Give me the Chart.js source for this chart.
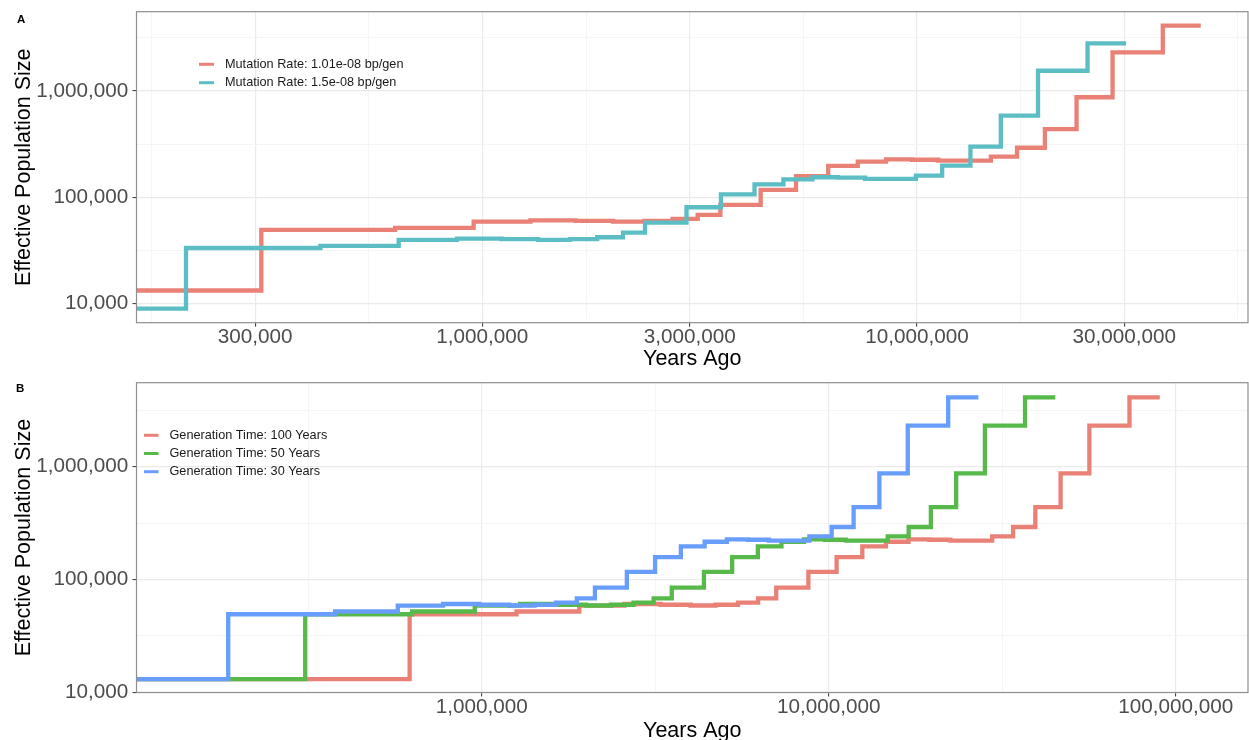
<!DOCTYPE html>
<html>
<head>
<meta charset="utf-8">
<title>Effective population size through time</title>
<script src="https://cdn.jsdelivr.net/npm/chart.js@4.4.1/dist/chart.umd.min.js"></script>
<style>
  html, body { margin: 0; padding: 0; background: #ffffff; overflow: hidden; }
  #wrap { position: relative; width: 1249px; height: 740px; }
  canvas { position: absolute; left: 0; }
  #panelA { top: 0; }
  #panelB { top: 370px; }
</style>
</head>
<body>
<div id="wrap">
  <canvas id="panelA" width="1249" height="370"></canvas>
  <canvas id="panelB" width="1249" height="370"></canvas>
</div>
<script>
// ---------------- Panel A: two mutation rates ----------------
// Each pair of arrays lists the start of every epoch (years ago) and the
// effective population size held during it; the last entry closes the line.
const yearsMu101 = [1.5e5, 3.10e5, 6.30e5, 9.55e5, 1.29e6, 1.64e6, 2.00e6, 2.36e6, 2.74e6, 3.13e6,
                    3.53e6, 4.37e6, 5.27e6, 6.25e6, 7.31e6, 8.49e6, 9.75e6, 1.12e7, 1.48e7, 1.70e7,
                    1.97e7, 2.33e7, 2.82e7, 3.68e7, 4.50e7];
const neMu101    = [13200, 49100, 51300, 58800, 60500, 59700, 58800, 59700, 62400, 68000,
                    84500, 117000, 158000, 196700, 216000, 227000, 225000, 221000, 241000, 292000,
                    438000, 873000, 2310000, 4120000, 4120000];

const yearsMu150 = [1.5e5, 2.08e5, 4.24e5, 6.42e5, 8.74e5, 1.107e6, 1.343e6, 1.59e6, 1.838e6, 2.107e6,
                    2.368e6, 2.95e6, 3.54e6, 4.23e6, 4.93e6, 5.75e6, 6.58e6, 7.60e6, 9.95e6, 1.143e7,
                    1.328e7, 1.56e7, 1.90e7, 2.47e7, 3.03e7];
const neMu150    = [8910, 33200, 34700, 39500, 40700, 40300, 39500, 40300, 41900, 46300,
                    57500, 80300, 106400, 132000, 147000, 153900, 153000, 148400, 159600, 198000,
                    299000, 586000, 1550000, 2810000, 2810000];

// ---------------- Panel B: three generation times ----------------
const yearsGen100 = [9.0e4, 6.20e5, 1.26e6, 1.91e6, 2.58e6, 3.28e6, 4.00e6, 4.72e6, 5.48e6, 6.26e6,
                     7.06e6, 8.74e6, 1.054e7, 1.25e7, 1.462e7, 1.698e7, 1.95e7, 2.24e7, 2.96e7, 3.40e7,
                     3.94e7, 4.66e7, 5.64e7, 7.36e7, 9.00e7];
const yearsGen50  = [9.0e4, 3.10e5, 6.30e5, 9.55e5, 1.29e6, 1.64e6, 2.00e6, 2.36e6, 2.74e6, 3.13e6,
                     3.53e6, 4.37e6, 5.27e6, 6.25e6, 7.31e6, 8.49e6, 9.75e6, 1.12e7, 1.48e7, 1.70e7,
                     1.97e7, 2.33e7, 2.82e7, 3.68e7, 4.50e7];
const yearsGen30  = [9.0e4, 1.86e5, 3.78e5, 5.73e5, 7.74e5, 9.84e5, 1.20e6, 1.42e6, 1.64e6, 1.88e6,
                     2.12e6, 2.62e6, 3.16e6, 3.75e6, 4.39e6, 5.09e6, 5.85e6, 6.72e6, 8.80e6, 1.02e7,
                     1.18e7, 1.40e7, 1.69e7, 2.21e7, 2.70e7];
// The three generation times share the same sequence of population sizes.
const neGenTime   = [13050, 49150, 52000, 58700, 60600, 59700, 58800, 59700, 62400, 68000,
                     84500, 117000, 158000, 196700, 216000, 227000, 225000, 221000, 241000, 292000,
                     438000, 873000, 2310000, 4120000, 4120000];

// ---------------- Axis breaks (labelled) ----------------
const yearBreaksA = [1e5, 3e5, 1e6, 3e6, 1e7, 3e7, 1e8];
const yearBreaksB = [1e5, 1e6, 1e7, 1e8, 1e9];
const neBreaks    = [1e3, 1e4, 1e5, 1e6, 1e7];

const labelsA = ['Mutation Rate: 1.01e-08 bp/gen', 'Mutation Rate: 1.5e-08 bp/gen'];
const labelsB = ['Generation Time: 100 Years', 'Generation Time: 50 Years', 'Generation Time: 30 Years'];

// ---------------- helpers ----------------
const FONT = "'Liberation Sans', Arial, Helvetica, sans-serif";

function comma(v) {
  return String(Math.round(v)).replace(/\B(?=(\d{3})+(?!\d))/g, ',');
}

// Labelled breaks plus unlabelled minor lines halfway between them (in log space).
function breakTicks(breaks, lo, hi) {
  const out = [];
  for (let i = 0; i < breaks.length; i++) {
    out.push({ value: breaks[i], major: true });
    if (i < breaks.length - 1) out.push({ value: Math.sqrt(breaks[i] * breaks[i + 1]), major: false });
  }
  return out.filter(t => t.value >= lo && t.value <= hi);
}

function logAxis(opts) {
  const ticks = breakTicks(opts.breaks, opts.min, opts.max);
  const majors = new Set(ticks.filter(t => t.major).map(t => t.value));
  const isMajor = c => c.tick && majors.has(c.tick.value);
  const horizontal = opts.axis === 'x';
  return {
    type: 'logarithmic',
    position: horizontal ? 'bottom' : 'left',
    min: opts.min,
    max: opts.max,
    afterBuildTicks: s => { s.ticks = ticks.map(t => ({ value: t.value })); },
    afterFit: s => {
      if (horizontal) s.height = opts.size; else s.width = opts.size;
      s.paddingTop = 0; s.paddingBottom = 0; s.paddingLeft = 0; s.paddingRight = 0;
    },
    ticks: {
      autoSkip: false,
      maxRotation: 0,
      minRotation: 0,
      padding: opts.tickPadding,
      color: '#4D4D4D',
      font: { family: FONT, size: 20.7, lineHeight: 1.0 },
      callback: v => (majors.has(v) ? comma(v) : '')
    },
    grid: {
      color: c => (isMajor(c) ? '#EBEBEB' : '#F4F4F4'),
      lineWidth: c => (isMajor(c) ? 1.2 : 0.9),
      drawTicks: true,
      tickLength: 4,
      tickWidth: 1,
      tickColor: c => (isMajor(c) ? '#333333' : 'rgba(0,0,0,0)')
    },
    border: { display: false },
    title: {
      display: true,
      text: opts.title,
      color: '#000000',
      font: { family: FONT, size: 21.5, lineHeight: 1.2 },
      padding: opts.titlePadding
    }
  };
}

function stepSeries(label, years, ne, color, order) {
  return {
    label: label,
    data: years.map((x, i) => ({ x: x, y: ne[i] })),
    borderColor: color,
    backgroundColor: color,
    borderWidth: 4.3,
    stepped: true,
    pointRadius: 0,
    pointHoverRadius: 0,
    fill: false,
    clip: 0,
    order: order,
    borderJoinStyle: 'miter',
    borderCapStyle: 'butt'
  };
}

// Panel frame (drawn over the lines), panel tag and an inset legend.
const frameAndLegend = {
  id: 'frameAndLegend',
  afterDatasetsDraw(chart, args, o) {
    const { ctx, chartArea: a } = chart;
    ctx.save();
    ctx.strokeStyle = o.borderColor;
    ctx.lineWidth = o.borderWidth;
    ctx.strokeRect(a.left, a.top, a.right - a.left, a.bottom - a.top);
    ctx.restore();
  },
  afterDraw(chart, args, o) {
    const ctx = chart.ctx;
    ctx.save();
    ctx.fillStyle = '#000000';
    ctx.font = 'bold 11.5px ' + FONT;
    ctx.textAlign = 'left';
    ctx.textBaseline = 'alphabetic';
    ctx.fillText(o.tag, o.tagX, o.tagY);

    ctx.font = o.legendFontSize + 'px ' + FONT;
    ctx.textBaseline = 'middle';
    chart.data.datasets.forEach((ds, i) => {
      const y = o.legendY + i * o.legendGap;
      ctx.strokeStyle = ds.borderColor;
      ctx.lineWidth = 3;
      ctx.lineCap = 'butt';
      ctx.beginPath();
      ctx.moveTo(o.legendX, y);
      ctx.lineTo(o.legendX + o.keyLength, y);
      ctx.stroke();
      ctx.fillStyle = '#1A1A1A';
      ctx.fillText(ds.label, o.legendX + o.keyLength + o.keyGap, y);
    });
    ctx.restore();
  }
};

const RED = 'rgb(233,129,119)';
const TEAL = 'rgb(92,190,196)';
const GREEN = 'rgb(86,185,74)';
const BLUE = 'rgb(104,157,252)';

function baseOptions(padTop, xAxis, yAxis, legendOpts) {
  return {
    responsive: false,
    animation: false,
    devicePixelRatio: 1,
    events: [],
    layout: { padding: { top: padTop, left: 0, right: 1, bottom: 0 } },
    scales: { x: xAxis, y: yAxis },
    plugins: {
      legend: { display: false },
      tooltip: { enabled: false },
      frameAndLegend: Object.assign({ borderColor: '#8F8F8F', borderWidth: 1.2, legendFontSize: 12.7, keyGap: 11 }, legendOpts)
    }
  };
}

// ---------------- Panel A ----------------
new Chart(document.getElementById('panelA'), {
  type: 'line',
  data: {
    datasets: [
      stepSeries(labelsA[0], yearsMu101, neMu101, RED, 1),
      stepSeries(labelsA[1], yearsMu150, neMu150, TEAL, 0)
    ]
  },
  options: baseOptions(
    11.7,
    logAxis({ axis: 'x', min: 1.6e5, max: 5.78e7, breaks: yearBreaksA, size: 47.3, tickPadding: 0.5,
              title: 'Years Ago', titlePadding: { top: 0, bottom: -2 } }),
    logAxis({ axis: 'y', min: 6567, max: 5.58e6, breaks: neBreaks, size: 136.5, tickPadding: 4.2,
              title: 'Effective Population Size', titlePadding: { top: 11, bottom: 0 } }),
    { tag: 'A', tagX: 17, tagY: 22.5, legendX: 199, legendY: 64.3, legendGap: 18.4, keyLength: 15 }
  ),
  plugins: [frameAndLegend]
});

// ---------------- Panel B ----------------
new Chart(document.getElementById('panelB'), {
  type: 'line',
  data: {
    datasets: [
      stepSeries(labelsB[0], yearsGen100, neGenTime, RED, 2),
      stepSeries(labelsB[1], yearsGen50, neGenTime, GREEN, 1),
      stepSeries(labelsB[2], yearsGen30, neGenTime, BLUE, 0)
    ]
  },
  options: baseOptions(
    12.7,
    logAxis({ axis: 'x', min: 1.012e5, max: 1.616e8, breaks: yearBreaksB, size: 47.5, tickPadding: 0.5,
              title: 'Years Ago', titlePadding: { top: 0, bottom: -4 } }),
    logAxis({ axis: 'y', min: 9950, max: 5.555e6, breaks: neBreaks, size: 136.5, tickPadding: 4.2,
              title: 'Effective Population Size', titlePadding: { top: 11, bottom: 0 } }),
    { tag: 'B', tagX: 16, tagY: 22.3, legendX: 144, legendY: 65.3, legendGap: 18.2, keyLength: 14.5 }
  ),
  plugins: [frameAndLegend]
});
</script>
</body>
</html>
